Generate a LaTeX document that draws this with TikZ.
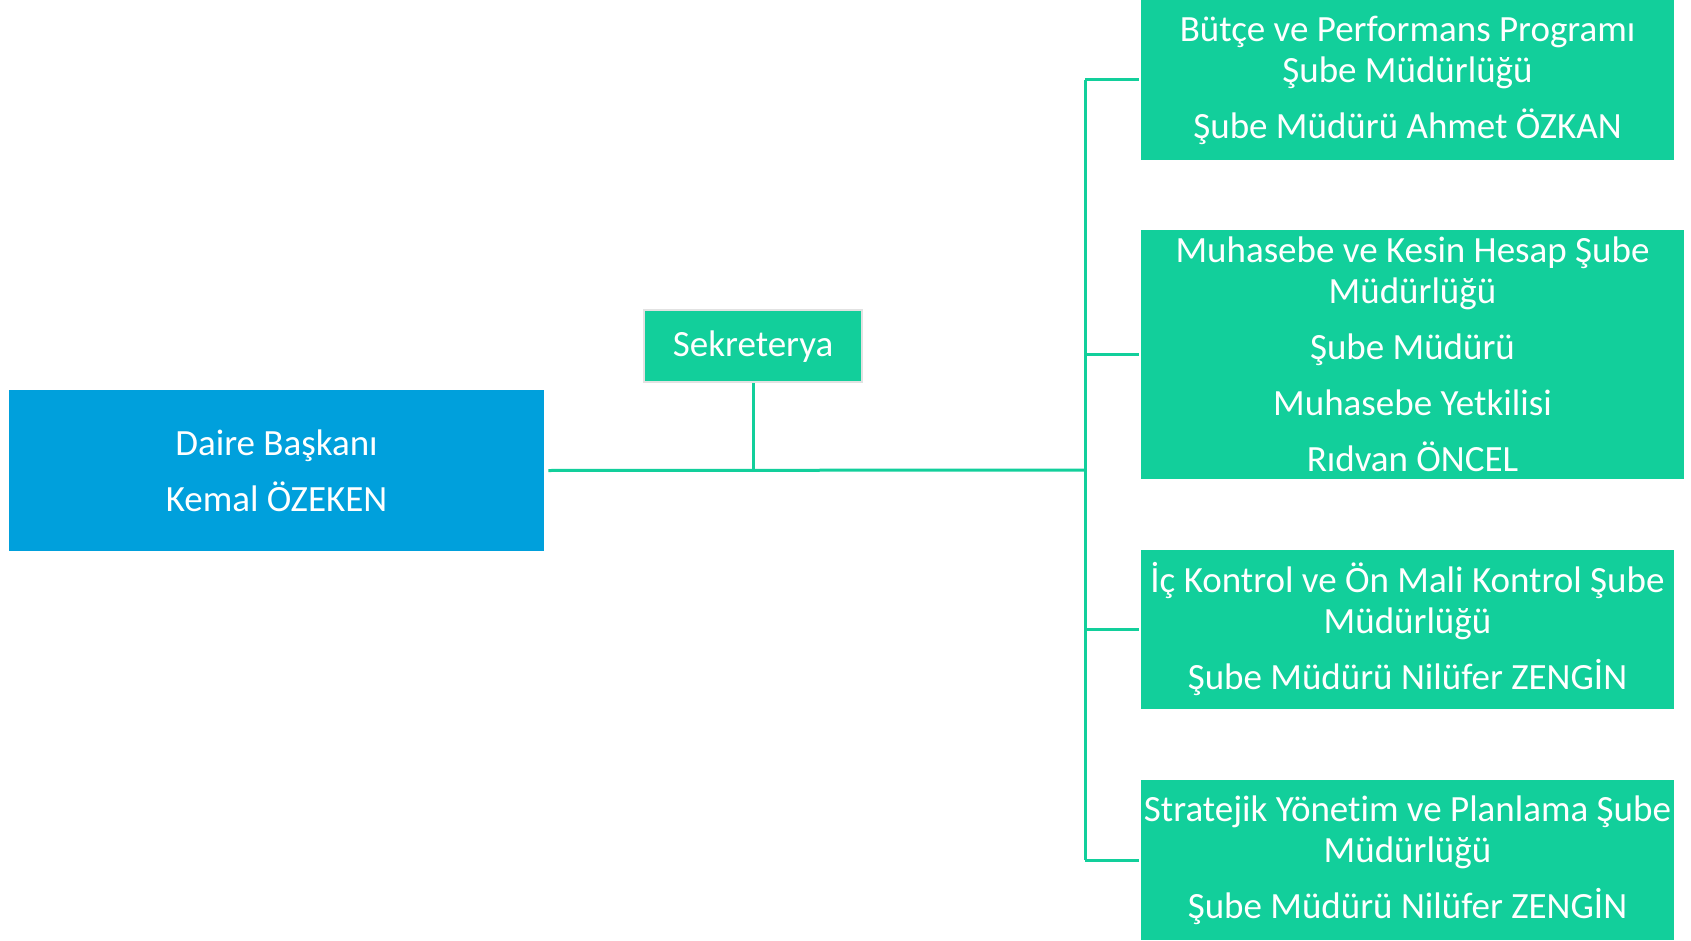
\documentclass[tikz,border=0pt]{standalone}
\usepackage{fontspec}
\setmainfont{Carlito}[Ligatures=NoCommon]
\definecolor{unitgreen}{HTML}{12CF9B}
\definecolor{headblue}{HTML}{00A0DC}
\definecolor{framegray}{HTML}{E2E2E2}
\tikzset{
  unit/.style={fill=unitgreen, text=white, align=center, inner sep=0pt,
    minimum width=266.5pt, minimum height=80pt,
    font=\fontsize{18.5}{20.5}\selectfont},
  link/.style={draw=unitgreen, line width=1.5pt}
}
\begin{document}
\begin{tikzpicture}[x=0.5pt, y=-0.5pt]
\useasboundingbox (0,0) rectangle (1691,941);
\node[unit, fill=headblue, minimum width=267.5pt, minimum height=80.5pt] (bas) at (276.5,470.5) {Daire Başkanı\\[7.5pt] Kemal ÖZEKEN};
\node[unit, draw=framegray, line width=1pt, minimum width=109pt, minimum height=36pt, text depth=2pt] (sek) at (753,346) {Sekreterya};
\node[unit] (b1) at (1407.5,80) {Bütçe ve Performans Programı\\ Şube Müdürlüğü\\[7.5pt] Şube Müdürü Ahmet ÖZKAN};
\node[unit, minimum width=271.5pt, minimum height=124.5pt] (b2) at (1412.5,354.5) {Muhasebe ve Kesin Hesap Şube\\ Müdürlüğü\\[7.5pt] Şube Müdürü\\[7.5pt] Muhasebe Yetkilisi\\[7.5pt] Rıdvan ÖNCEL};
\node[unit, minimum height=79.5pt] (b3) at (1407.5,629.5) {İç Kontrol ve Ön Mali Kontrol Şube\\ Müdürlüğü\\[7.5pt] Şube Müdürü Nilüfer ZENGİN};
\node[unit] (b4) at (1407.5,860) {Stratejik Yönetim ve Planlama Şube\\ Müdürlüğü\\[7.5pt] Şube Müdürü Nilüfer ZENGİN};
\coordinate (trunk) at (1085,470);
\draw[link] ([xshift=2pt]bas.east) -- (trunk);
\draw[link] (sek.south) -- (sek.south |- trunk);
\draw[link] (trunk |- b1.west) -- (trunk |- b4.west);
\foreach \b in {b1,b2,b3,b4}
  \draw[link] (trunk |- \b.west) -- ([xshift=-1pt]\b.west);
\end{tikzpicture}
\end{document}
